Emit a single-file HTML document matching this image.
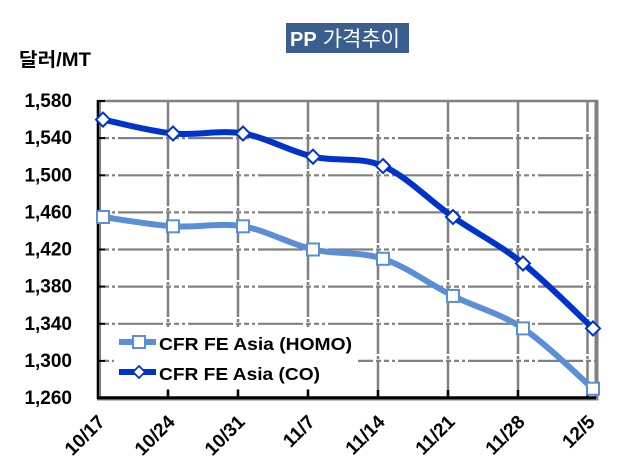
<!DOCTYPE html>
<html>
<head>
<meta charset="utf-8">
<style>
html,body{margin:0;padding:0;background:#fff;}
svg{display:block;}
text{font-family:"Liberation Sans","Noto Sans CJK KR",sans-serif;}
</style>
</head>
<body>
<svg width="640" height="475" viewBox="0 0 640 475" xmlns="http://www.w3.org/2000/svg">
  <rect x="0" y="0" width="640" height="475" fill="#ffffff"/>

  <!-- Title -->
  <rect x="286" y="23" width="123" height="30" fill="#3A5E8E"/>
  <text x="290" y="46" font-size="20" fill="#ffffff"><tspan font-weight="bold">PP</tspan><tspan font-family="'Noto Sans CJK KR',sans-serif" font-size="21" dx="6">가격추이</tspan></text>

  <!-- Y axis unit label -->
  <text x="19" y="66" font-size="19" font-weight="bold" fill="#000" textLength="72" lengthAdjust="spacingAndGlyphs">달러/MT</text>

  <!-- Horizontal gridlines -->
  <g stroke="#808080" stroke-width="2.2" fill="none" stroke-dasharray="45 3 5 3 5 3 3 3" stroke-dashoffset="51">
    <line x1="99" y1="138.1" x2="595" y2="138.1"/>
    <line x1="99" y1="175.3" x2="595" y2="175.3"/>
    <line x1="99" y1="212.4" x2="595" y2="212.4"/>
    <line x1="99" y1="249.5" x2="595" y2="249.5"/>
    <line x1="99" y1="286.6" x2="595" y2="286.6"/>
    <line x1="99" y1="323.8" x2="595" y2="323.8"/>
    <line x1="99" y1="360.9" x2="595" y2="360.9"/>
  </g>
  <!-- Vertical gridlines -->
  <g stroke="#808080" stroke-width="2.5" fill="none" stroke-dasharray="30 2 3 2">
    <line x1="168" y1="102" x2="168" y2="397"/>
    <line x1="238" y1="102" x2="238" y2="397"/>
    <line x1="308" y1="102" x2="308" y2="397"/>
    <line x1="378" y1="102" x2="378" y2="397"/>
    <line x1="448" y1="102" x2="448" y2="397"/>
    <line x1="518" y1="102" x2="518" y2="397"/>
    <line x1="587.5" y1="102" x2="587.5" y2="397"/>
  </g>

  <!-- Plot frame -->
  <line x1="99" y1="101" x2="598" y2="101" stroke="#808080" stroke-width="2.5"/>
  <line x1="596.5" y1="100" x2="596.5" y2="400" stroke="#808080" stroke-width="4"/>
  <line x1="100.3" y1="101" x2="100.3" y2="398" stroke="#808080" stroke-width="1.5"/>
  <line x1="98" y1="100" x2="98" y2="399" stroke="#000" stroke-width="2.6"/>
  <line x1="97" y1="399.8" x2="598" y2="399.8" stroke="#808080" stroke-width="1.5"/>
  <line x1="97" y1="397.8" x2="596" y2="397.8" stroke="#000" stroke-width="3"/>

  <!-- Y ticks (inward) -->
  <g stroke="#000" stroke-width="2">
    <line x1="97" y1="101" x2="105" y2="101"/>
    <line x1="97" y1="138.1" x2="105" y2="138.1"/>
    <line x1="97" y1="175.3" x2="105" y2="175.3"/>
    <line x1="97" y1="212.4" x2="105" y2="212.4"/>
    <line x1="97" y1="249.5" x2="105" y2="249.5"/>
    <line x1="97" y1="286.6" x2="105" y2="286.6"/>
    <line x1="97" y1="323.8" x2="105" y2="323.8"/>
    <line x1="97" y1="360.9" x2="105" y2="360.9"/>
  </g>
  <!-- X ticks (inward) -->
  <g stroke="#000" stroke-width="2.5">
    <line x1="168" y1="390" x2="168" y2="397"/>
    <line x1="238" y1="390" x2="238" y2="397"/>
    <line x1="308" y1="390" x2="308" y2="397"/>
    <line x1="378" y1="390" x2="378" y2="397"/>
    <line x1="448" y1="390" x2="448" y2="397"/>
    <line x1="518" y1="390" x2="518" y2="397"/>
    <line x1="587.5" y1="390" x2="587.5" y2="397"/>
  </g>

  <!-- Y labels -->
  <g font-size="19" font-weight="bold" fill="#000" text-anchor="end">
    <text x="72" y="107">1,580</text>
    <text x="72" y="144.1">1,540</text>
    <text x="72" y="181.3">1,500</text>
    <text x="72" y="218.4">1,460</text>
    <text x="72" y="255.5">1,420</text>
    <text x="72" y="292.6">1,380</text>
    <text x="72" y="329.8">1,340</text>
    <text x="72" y="366.9">1,300</text>
    <text x="72" y="404">1,260</text>
  </g>

  <!-- X labels -->
  <g font-size="19" font-weight="bold" fill="#000" text-anchor="end">
    <text x="106" y="423" transform="rotate(-45 106 423)">10/17</text>
    <text x="176" y="423" transform="rotate(-45 176 423)">10/24</text>
    <text x="246" y="423" transform="rotate(-45 246 423)">10/31</text>
    <text x="316" y="423" transform="rotate(-45 316 423)">11/7</text>
    <text x="386" y="423" transform="rotate(-45 386 423)">11/14</text>
    <text x="456" y="423" transform="rotate(-45 456 423)">11/21</text>
    <text x="526" y="423" transform="rotate(-45 526 423)">11/28</text>
    <text x="596" y="423" transform="rotate(-45 596 423)">12/5</text>
  </g>

  <!-- HOMO series -->
  <path d="M103,217 C114.7,218.55 149.7,224.75 173,226.3 C196.3,227.85 219.7,222.4 243,226.3 C266.3,230.2 289.7,244.1 313,249.5 C336.3,254.9 359.7,251.1 383,258.8 C406.3,266.5 429.7,284.3 453,295.9 C476.3,307.5 499.7,312.9 523,328.4 C546.3,343.9 581.3,378.65 593,388.7"
        fill="none" stroke="#5A8ED6" stroke-width="6" stroke-linejoin="round"/>
  <!-- CO series -->
  <path d="M103,119.6 C114.7,121.9 149.7,131.2 173,133.5 C196.3,135.8 219.7,129.6 243,133.5 C266.3,137.4 289.7,151.3 313,156.7 C336.3,162.1 359.7,156 383,166 C406.3,176.05 429.7,200.8 453,217 C476.3,233.2 499.7,244.8 523,263.4 C546.3,282 581.3,317.6 593,328.4"
        fill="none" stroke="#0033CC" stroke-width="6" stroke-linejoin="round"/>

  <!-- HOMO markers -->
  <g fill="#fff" stroke="#5A8ED6" stroke-width="2">
    <rect x="97" y="211" width="12" height="12"/>
    <rect x="167" y="220.3" width="12" height="12"/>
    <rect x="237" y="220.3" width="12" height="12"/>
    <rect x="307" y="243.5" width="12" height="12"/>
    <rect x="377" y="252.8" width="12" height="12"/>
    <rect x="447" y="289.9" width="12" height="12"/>
    <rect x="517" y="322.4" width="12" height="12"/>
    <rect x="587" y="382.7" width="12" height="12"/>
  </g>
  <!-- CO markers -->
  <g fill="#fff" stroke="#0033CC" stroke-width="2">
    <path d="M103,112.6 L110,119.6 L103,126.6 L96,119.6 Z"/>
    <path d="M173,126.5 L180,133.5 L173,140.5 L166,133.5 Z"/>
    <path d="M243,126.5 L250,133.5 L243,140.5 L236,133.5 Z"/>
    <path d="M313,149.7 L320,156.7 L313,163.7 L306,156.7 Z"/>
    <path d="M383,159 L390,166 L383,173 L376,166 Z"/>
    <path d="M453,210 L460,217 L453,224 L446,217 Z"/>
    <path d="M523,256.4 L530,263.4 L523,270.4 L516,263.4 Z"/>
    <path d="M593,321.4 L600,328.4 L593,335.4 L586,328.4 Z"/>
  </g>

  <!-- Legend -->
  <rect x="114" y="327" width="244" height="62" fill="#fff"/>
  <line x1="119" y1="342" x2="156" y2="342" stroke="#5A8ED6" stroke-width="6"/>
  <rect x="133" y="336" width="12" height="12" fill="#fff" stroke="#5A8ED6" stroke-width="2"/>
  <text x="159" y="350" font-size="17.5" font-weight="bold" fill="#000" textLength="193" lengthAdjust="spacingAndGlyphs">CFR FE Asia (HOMO)</text>
  <line x1="119" y1="372" x2="156" y2="372" stroke="#0033CC" stroke-width="6"/>
  <path d="M139,366 L145,372 L139,378 L133,372 Z" fill="#fff" stroke="#0033CC" stroke-width="1.8"/>
  <text x="159" y="380" font-size="17.5" font-weight="bold" fill="#000" textLength="161" lengthAdjust="spacingAndGlyphs">CFR FE Asia (CO)</text>
</svg>
</body>
</html>
